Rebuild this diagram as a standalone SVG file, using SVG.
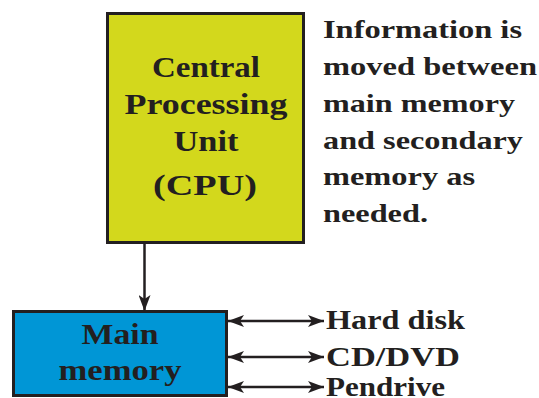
<svg xmlns="http://www.w3.org/2000/svg" width="539" height="398" viewBox="0 0 539 398">
<style>
.t{font-family:'Liberation Serif','Times New Roman',serif;font-weight:bold;fill:#231f20}
.box{stroke:#231f20;stroke-width:3}
.ln{stroke:#231f20;stroke-width:2.5;fill:none}
</style>
<defs>
<marker id="ah" viewBox="0 0 16 12" refX="16" refY="6" markerWidth="16" markerHeight="12" markerUnits="userSpaceOnUse" orient="auto-start-reverse">
<path d="M0,0 L16,6 L0,12 L4,6 Z" fill="#231f20"/>
</marker>
</defs>
<rect width="539" height="398" fill="#fff"/>
<g id="cpu">
<rect class="box" x="107.5" y="13.5" width="196" height="229" fill="#d3d81c"/>
<text class="t" font-size="30" text-anchor="middle" x="206" y="77" textLength="108" lengthAdjust="spacingAndGlyphs">Central</text>
<text class="t" font-size="30" text-anchor="middle" x="206" y="114" textLength="163" lengthAdjust="spacingAndGlyphs">Processing</text>
<text class="t" font-size="30" text-anchor="middle" x="206" y="151" textLength="65" lengthAdjust="spacingAndGlyphs">Unit</text>
<text class="t" font-size="30" text-anchor="middle" x="205" y="195" textLength="104" lengthAdjust="spacingAndGlyphs">(CPU)</text>
</g>
<g id="main-memory">
<rect class="box" x="13.5" y="311.5" width="213" height="84" fill="#0096d6"/>
<text class="t" font-size="30" text-anchor="middle" x="120" y="344" textLength="77" lengthAdjust="spacingAndGlyphs">Main</text>
<text class="t" font-size="30" text-anchor="middle" x="120" y="380" textLength="123" lengthAdjust="spacingAndGlyphs">memory</text>
</g>
<g id="note">
<text class="t" font-size="26" x="323" y="38" textLength="199" lengthAdjust="spacingAndGlyphs">Information is</text>
<text class="t" font-size="26" x="323" y="75" textLength="214" lengthAdjust="spacingAndGlyphs">moved between</text>
<text class="t" font-size="26" x="323" y="112" textLength="192" lengthAdjust="spacingAndGlyphs">main memory</text>
<text class="t" font-size="26" x="323" y="149" textLength="200" lengthAdjust="spacingAndGlyphs">and secondary</text>
<text class="t" font-size="26" x="323" y="185" textLength="152" lengthAdjust="spacingAndGlyphs">memory as</text>
<text class="t" font-size="26" x="323" y="222" textLength="105" lengthAdjust="spacingAndGlyphs">needed.</text>
</g>
<g id="hard-disk"><text class="t" font-size="28" x="326" y="329" textLength="139" lengthAdjust="spacingAndGlyphs">Hard disk</text></g>
<g id="cd-dvd"><text class="t" font-size="28" x="326" y="366" textLength="134" lengthAdjust="spacingAndGlyphs">CD/DVD</text></g>
<g id="pendrive"><text class="t" font-size="28" x="326" y="396" textLength="119" lengthAdjust="spacingAndGlyphs">Pendrive</text></g>
<g id="connectors">
<line class="ln" x1="144.5" y1="243" x2="144.5" y2="311" marker-end="url(#ah)"/>
<line class="ln" x1="228" y1="321" x2="324" y2="321" marker-start="url(#ah)" marker-end="url(#ah)"/>
<line class="ln" x1="228" y1="357" x2="324" y2="357" marker-start="url(#ah)" marker-end="url(#ah)"/>
<line class="ln" x1="228" y1="387" x2="324" y2="387" marker-start="url(#ah)" marker-end="url(#ah)"/>
</g>
</svg>
